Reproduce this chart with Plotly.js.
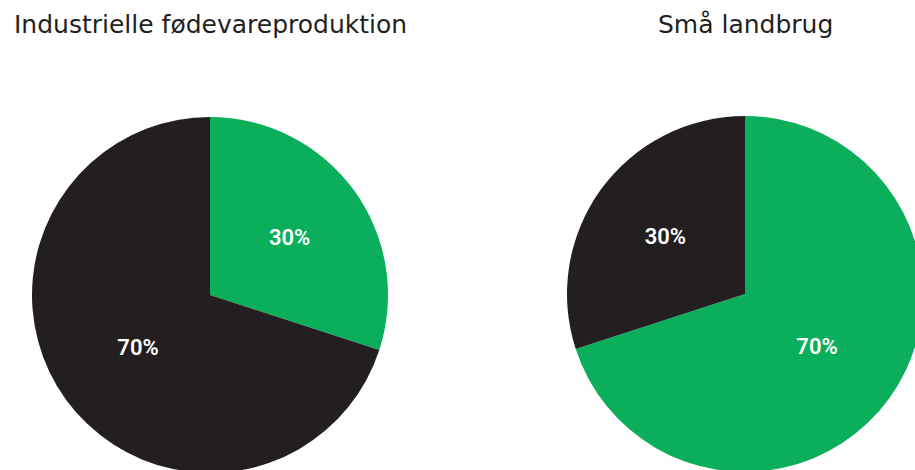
<!DOCTYPE html>
<html>
<head>
<meta charset="utf-8">
<script src="https://cdn.plot.ly/plotly-3.0.1.min.js"></script>
<style>
html,body{margin:0;padding:0;overflow:hidden;background:#fff;}
#chart{width:930px;height:480px;}
</style>
</head>
<body>
<div id="chart"></div>
<script>
const chartTitles = ["Industrielle fødevareproduktion", "Små landbrug"];
const sliceLabels = ["Andel A", "Andel B"];
const industrialValues = [30, 70];
const smallFarmValues = [70, 30];
const industrialColors = ["#0bae5b", "#231f20"];
const smallFarmColors = ["#0bae5b", "#231f20"];

const W = 930, H = 480;
const R = 178;
function dom(cx, cy) {
  return {x: [(cx - R) / W, (cx + R) / W], y: [(H - (cy + R)) / H, (H - (cy - R)) / H]};
}
const labelFont = {family: "Roboto, 'DejaVu Sans', sans-serif", size: 22, color: "#ffffff", weight: 600};

const data = [
  {
    type: "pie", values: industrialValues, labels: sliceLabels,
    sort: false, direction: "clockwise", rotation: 0,
    marker: {colors: industrialColors, line: {width: 0}},
    textinfo: "percent", texttemplate: "%{percent:.0%}", textposition: "inside",
    insidetextorientation: "horizontal",
    insidetextfont: labelFont, hoverinfo: "none",
    domain: dom(210, 295), showlegend: false
  },
  {
    type: "pie", values: smallFarmValues, labels: sliceLabels,
    sort: false, direction: "clockwise", rotation: 0,
    marker: {colors: smallFarmColors, line: {width: 0}},
    textinfo: "percent", texttemplate: "%{percent:.0%}", textposition: "inside",
    insidetextorientation: "horizontal",
    insidetextfont: labelFont, hoverinfo: "none",
    domain: dom(745, 294), showlegend: false
  }
];

const titleFont = {family: "'DejaVu Sans', sans-serif", size: 25, color: "#231f20"};
const layout = {
  width: W, height: H,
  margin: {l: 0, r: 0, t: 0, b: 0},
  paper_bgcolor: "#ffffff",
  showlegend: false,
  annotations: [
    {text: chartTitles[0], x: 210 / W, y: 1 - 24 / H, xref: "paper", yref: "paper",
     xanchor: "center", yanchor: "middle", showarrow: false, font: titleFont},
    {text: chartTitles[1], x: 745 / W, y: 1 - 24 / H, xref: "paper", yref: "paper",
     xanchor: "center", yanchor: "middle", showarrow: false, font: titleFont}
  ]
};

Plotly.newPlot("chart", data, layout, {displayModeBar: false, staticPlot: true});
</script>
</body>
</html>
